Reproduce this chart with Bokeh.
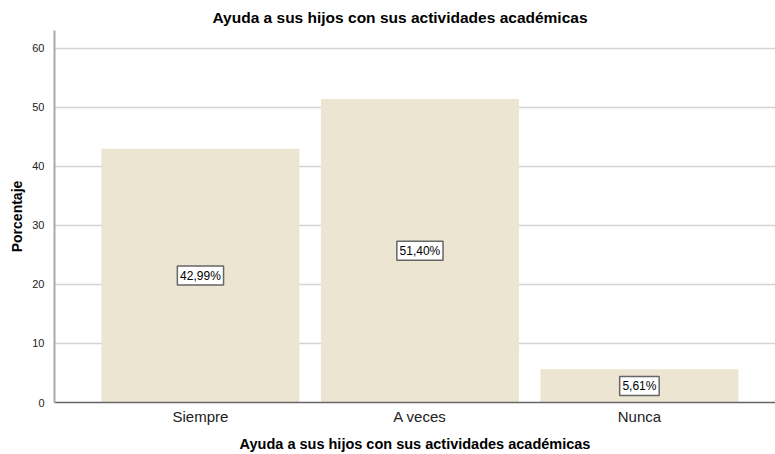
from bokeh.plotting import figure
from bokeh.models import ColumnDataSource, Range1d, FixedTicker
from bokeh.core.properties import value
from bokeh.embed import file_html
from bokeh.resources import INLINE

categories = ["Siempre", "A veces", "Nunca"]
values = [42.99, 51.40, 5.61]
labels = ["42,99%", "51,40%", "5,61%"]
yticks = [0, 10, 20, 30, 40, 50, 60]
title_text = "Ayuda a sus hijos con sus actividades académicas"

xs = list(range(len(categories)))
src = ColumnDataSource(dict(x=xs, top=values, mid=[v / 2 for v in values], lab=labels,
                            bw=[len(s) * 6.7 + 6 for s in labels]))

FONT = "Liberation Sans"

p = figure(width=775, height=454, output_backend="svg", toolbar_location=None,
           x_range=Range1d(-0.665, 2.62), y_range=Range1d(0, 63),
           min_border_left=54, min_border_right=0, min_border_top=30, min_border_bottom=51,
           title=title_text)
p.outline_line_color = None
p.title.text_font = FONT
p.title.text_font_size = "15.5px"
p.title.text_font_style = "bold"
p.title.align = "left"
p.title.offset = 158
p.title.standoff = 10
p.title.text_color = "#000000"

p.vbar(x="x", top="top", width=0.902, source=src, fill_color="#ebe5d1", line_color=None)

p.rect(x="x", y="mid", width="bw", height=19, width_units="screen", height_units="screen",
       source=src, fill_color="#ffffff", line_color="#666666", line_width=1.5)
p.text(x="x", y="mid", text="lab", source=src, text_align="center", text_baseline="middle",
       text_font=value(FONT), text_font_size="12px", text_color="#000000")

p.xaxis.ticker = FixedTicker(ticks=xs)
p.xaxis.major_label_overrides = {i: c for i, c in enumerate(categories)}
p.xaxis.axis_label = title_text
p.xaxis.axis_label_text_font = FONT
p.xaxis.axis_label_text_font_size = "14.5px"
p.xaxis.axis_label_text_font_style = "bold"
p.xaxis.axis_label_text_color = "#000000"
p.xaxis.axis_label_standoff = 8
p.xaxis.major_label_text_font = FONT
p.xaxis.major_label_text_font_size = "15px"
p.xaxis.major_label_text_color = "#222222"
p.xaxis.major_label_standoff = -1
p.xaxis.major_tick_line_color = None
p.xaxis.minor_tick_line_color = None
p.xaxis.axis_line_color = "#666666"
p.xaxis.axis_line_width = 1.5

p.yaxis.ticker = FixedTicker(ticks=yticks)
p.yaxis.axis_label = "Porcentaje"
p.yaxis.axis_label_text_font = FONT
p.yaxis.axis_label_text_font_size = "14px"
p.yaxis.axis_label_text_font_style = "bold"
p.yaxis.axis_label_text_color = "#000000"
p.yaxis.axis_label_standoff = 4
p.yaxis.major_label_text_font = FONT
p.yaxis.major_label_text_font_size = "11px"
p.yaxis.major_label_text_color = "#222222"
p.yaxis.major_tick_line_color = None
p.yaxis.minor_tick_line_color = None
p.yaxis.axis_line_color = "#aaaaaa"
p.yaxis.axis_line_width = 2
p.yaxis.major_label_standoff = 4

p.xgrid.grid_line_color = None
p.ygrid.ticker = FixedTicker(ticks=yticks[1:])
p.ygrid.grid_line_color = "#d4d4d4"
p.ygrid.grid_line_width = 1.5

open("out.html", "w").write(file_html(p, INLINE))
